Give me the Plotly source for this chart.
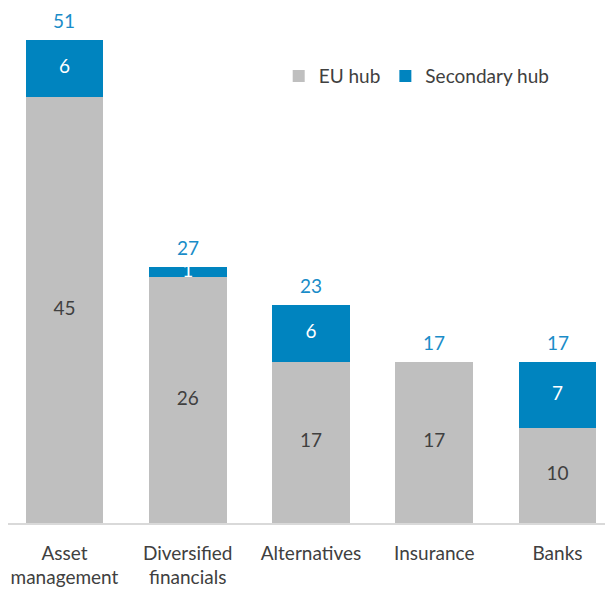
import plotly.graph_objects as go

categories = ["Asset<br>management", "Diversified<br>financials", "Alternatives", "Insurance", "Banks"]
eu_hub = [45, 26, 17, 17, 10]
secondary_hub = [6, 1, 6, 0, 7]
totals = [51, 27, 23, 17, 17]

GREY = "#bfbfbf"
BLUE = "#0084bf"
TOTAL_BLUE = "#1a8cc8"
TEXT = "#404040"
FONT = "Lato, Calibri, sans-serif"
FS = 19

fig = go.Figure()
fig.add_trace(go.Bar(x=categories, y=eu_hub, name="EU hub", marker_color=GREY,
                     marker_line_width=0, width=0.63))
fig.add_trace(go.Bar(x=categories, y=secondary_hub, name="Secondary hub", marker_color=BLUE,
                     marker_line_width=0, width=0.63))

# in-segment labels
fig.add_trace(go.Scatter(x=categories, y=[v / 2 for v in eu_hub], mode="text",
                         text=[str(v) for v in eu_hub], textposition="middle center",
                         textfont=dict(color=TEXT, size=FS, family=FONT),
                         showlegend=False, hoverinfo="skip"))
sec_idx = [i for i, v in enumerate(secondary_hub) if v > 0]
fig.add_trace(go.Scatter(x=[categories[i] for i in sec_idx],
                         y=[eu_hub[i] + secondary_hub[i] / 2 for i in sec_idx], mode="text",
                         text=[str(secondary_hub[i]) for i in sec_idx], textposition="middle center",
                         textfont=dict(color="white", size=FS, family=FONT),
                         showlegend=False, hoverinfo="skip"))
# totals above the stacks
for c, t in zip(categories, totals):
    fig.add_annotation(x=c, y=t, text=str(t), showarrow=False, yanchor="bottom",
                       yshift=6, font=dict(color=TOTAL_BLUE, size=FS, family=FONT))

fig.update_layout(
    barmode="stack",
    width=613, height=589,
    margin=dict(l=0, r=0, t=2, b=74, autoexpand=False),
    plot_bgcolor="white", paper_bgcolor="white",
    font=dict(family=FONT, size=FS, color=TEXT),
    legend=dict(orientation="h", x=0.4416, y=0.871, xanchor="left", yanchor="middle",
                font=dict(size=FS, color=TEXT), bgcolor="rgba(0,0,0,0)",
                itemwidth=30, traceorder="normal"),
    showlegend=True,
)
fig.update_xaxes(range=[-0.458, 4.515], showline=True, linecolor="#d9d9d9", linewidth=1.5,
                 ticks="", tickfont=dict(size=FS, color=TEXT, family=FONT),
                 ticklabelstandoff=12, automargin=False)
fig.update_yaxes(range=[0, 54.2], showgrid=False, showticklabels=False, zeroline=False,
                 showline=False, automargin=False)

fig.write_html("out.html")
